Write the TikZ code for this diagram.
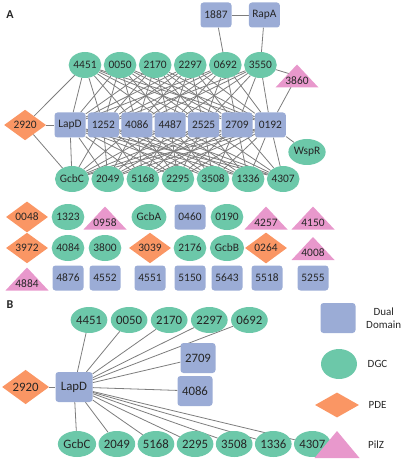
\documentclass[tikz,border=0pt]{standalone}
\usepackage{fontspec}
\setmainfont{Carlito}
\usetikzlibrary{shapes.geometric,positioning,backgrounds}
\definecolor{dualcol}{RGB}{155,172,214}
\definecolor{dgccol}{RGB}{108,200,169}
\definecolor{pdecol}{RGB}{250,150,100}
\definecolor{pilzcol}{RGB}{232,152,204}
\definecolor{linkcol}{RGB}{125,125,125}

\begin{document}
\begin{tikzpicture}[x=1pt,y=-1pt,
    every node/.style={font=\fontsize{11.4}{13}\selectfont,text=black!85},
    dual/.style={rectangle,rounded corners=3pt,minimum width=31pt,minimum height=25pt,inner sep=1pt,fill=dualcol},
    dgc/.style={ellipse,minimum width=31pt,minimum height=26pt,inner sep=0pt,fill=dgccol},
    pde/.style={diamond,minimum width=42pt,minimum height=29pt,inner sep=0pt,fill=pdecol},
    pilz/.style={rectangle,minimum width=43pt,minimum height=23pt,inner sep=0pt,text height=16.5pt,text depth=0pt,
        path picture={\fill[pilzcol] (path picture bounding box.south west) -- (path picture bounding box.south east) -- (path picture bounding box.north) -- cycle;}},
    key/.style={font=\fontsize{11}{13}\selectfont,align=center},
    tag/.style={font=\fontsize{12}{14}\selectfont\bfseries},
    link/.style={draw=linkcol,line width=0.8pt}
]
\useasboundingbox (0,0) rectangle (400,462);

% Panel A
\node[tag] (laba) at (10,15) {A};

% DGC row above
\node[dgc] (dgc4451) at (85,65) {4451};
\node[dgc,right=2pt of dgc4451] (dgc0050) {0050};
\node[dgc,right=2pt of dgc0050] (dgc2170) {2170};
\node[dgc,right=2pt of dgc2170] (dgc2297) {2297};
\node[dgc,right=2pt of dgc2297] (dgc0692) {0692};
\node[dgc,right=2pt of dgc0692] (dgc3550) {3550};

% Partners on top
\node[dual] (dd1887) at (216,15) {1887};
\node[dual,right=17pt of dd1887] (rapa) {RapA};
\node[pilz] (pilz3860) at (297,76) {3860};

% Dual domain row
\node[dual] (lapd) at (70,125) {LapD};
\node[dual,right=2pt of lapd] (dd1252) {1252};
\node[dual,right=2pt of dd1252] (dd4086) {4086};
\node[dual,right=2pt of dd4086] (dd4487) {4487};
\node[dual,right=2pt of dd4487] (dd2525) {2525};
\node[dual,right=2pt of dd2525] (dd2709) {2709};
\node[dual,right=2pt of dd2709] (dd0192) {0192};
\node[pde,left=8pt of lapd] (pde2920) {2920};
\node[dgc] (wspr) at (307,152) {WspR};

% DGC row below
\node[dgc] (gcbc) at (72,179) {GcbC};
\node[dgc,right=2pt of gcbc] (dgc2049) {2049};
\node[dgc,right=2pt of dgc2049] (dgc5168) {5168};
\node[dgc,right=2pt of dgc5168] (dgc2295) {2295};
\node[dgc,right=2pt of dgc2295] (dgc3508) {3508};
\node[dgc,right=2pt of dgc3508] (dgc1336) {1336};
\node[dgc,right=2pt of dgc1336] (dgc4307) {4307};

% Unlinked proteins
\node[pde] (pde0048) at (27,217) {0048};
\node[dgc] (dgc1323) at (68,217) {1323};
\node[pilz] (pilz0958) at (105,218) {0958};
\node[dgc] (gcba) at (149,217) {GcbA};
\node[dual] (dd0460) at (190,217) {0460};
\node[dgc] (dgc0190) at (227,217) {0190};
\node[pilz] (pilz4257) at (266,218) {4257};
\node[pilz] (pilz4150) at (313,218) {4150};

\node[pde] (pde3972) at (27,248) {3972};
\node[dgc] (dgc4084) at (68,248) {4084};
\node[dgc] (dgc3800) at (105,248) {3800};
\node[pde] (pde3039) at (150,248) {3039};
\node[dgc] (dgc2176) at (190,248) {2176};
\node[dgc] (gcbb) at (227,248) {GcbB};
\node[pde] (pde0264) at (266,248) {0264};
\node[pilz] (pilz4008) at (313,248.5) {4008};

\node[pilz] (pilz4884) at (27,279) {4884};
\node[dual] (dd4876) at (68,278) {4876};
\node[dual] (dd4552) at (105,278) {4552};
\node[dual] (dd4551) at (150,278) {4551};
\node[dual] (dd5150) at (190,278) {5150};
\node[dual] (dd5643) at (227,278) {5643};
\node[dual] (dd5518) at (267,278) {5518};
\node[dual] (dd5255) at (313,278) {5255};

% Panel B
\begin{scope}[every node/.append style={font=\fontsize{12.8}{15}\selectfont},
    dgc/.append style={minimum width=35pt,minimum height=26pt},
    dual/.append style={minimum width=35pt,minimum height=30pt}]
\node[tag] (labb) at (10,305) {B};

\node[dgc] (dgc4451b) at (89,320) {4451};
\node[dgc,right=3pt of dgc4451b] (dgc0050b) {0050};
\node[dgc,right=3pt of dgc0050b] (dgc2170b) {2170};
\node[dgc,right=3pt of dgc2170b] (dgc2297b) {2297};
\node[dgc,right=3pt of dgc2297b] (dgc0692b) {0692};

\node[dual,minimum width=37pt] (lapdb) at (74,387) {LapD};
\node[pde,minimum width=47pt,minimum height=32pt,left=6pt of lapdb] (pde2920b) {2920};
\node[dual] (dd2709b) at (198,358) {2709};
\node[dual] (dd4086b) at (195,391) {4086};

\node[dgc] (gcbcb) at (77,444) {GcbC};
\node[dgc,right=2pt of gcbcb] (dgc2049b) {2049};
\node[dgc,right=2pt of dgc2049b] (dgc5168b) {5168};
\node[dgc,right=2pt of dgc5168b] (dgc2295b) {2295};
\node[dgc,right=2pt of dgc2295b] (dgc3508b) {3508};
\node[dgc,right=2pt of dgc3508b] (dgc1336b) {1336};
\node[dgc,right=2pt of dgc1336b] (dgc4307b) {4307};

% Legend
\node[dual] (keydual) at (338,318) {};
\node[key,right=7pt of keydual] (keydualtxt) {Dual\\Domain};
\node[dgc,minimum width=36pt,minimum height=30pt] (keydgc) at (339,364) {};
\node[key,right=7pt of keydgc] (keydgctxt) {DGC};
\node[pde,minimum width=44pt,minimum height=25pt] (keypde) at (337,405) {};
\node[key,right=6pt of keypde] (keypdetxt) {PDE};
\node[pilz,minimum width=45pt,minimum height=27pt] (keypilz) at (337,444.5) {};
\node[key,right=5pt of keypilz] (keypilztxt) {PilZ};
\end{scope}

% Connections
\begin{scope}[on background layer]
\draw[link] (dgc4451) edge (pde2920) edge (lapd) edge (dd1252) edge (dd4086) edge (dd4487) edge (dd2525) edge (dd2709) edge (dd0192);
\draw[link] (dgc0050) edge (lapd) edge (dd1252) edge (dd4086) edge (dd4487) edge (dd2525) edge (dd2709) edge (dd0192);
\draw[link] (dgc2170) edge (lapd) edge (dd1252) edge (dd4086) edge (dd4487) edge (dd2525) edge (dd2709) edge (dd0192);
\draw[link] (dgc2297) edge (lapd) edge (dd1252) edge (dd4086) edge (dd4487) edge (dd2525) edge (dd2709) edge (dd0192);
\draw[link] (dgc0692) edge (dd1887) edge (lapd) edge (dd1252) edge (dd4086) edge (dd4487) edge (dd2525) edge (dd2709) edge (dd0192);
\draw[link] (dgc3550) edge (rapa) edge (pilz3860.center) edge (dd1252) edge (dd4086) edge (dd4487) edge (dd2525) edge (dd2709) edge (dd0192);
\draw[link] (dd1887) -- (rapa);
\draw[link] (pilz3860.center) -- (dd0192);
\draw[link] (dd0192) -- (wspr);
\draw[link] (pde2920) edge (lapd) edge (gcbc);
\draw[link] (gcbc) edge (lapd) edge (dd1252) edge (dd4086) edge (dd4487) edge (dd2525) edge (dd2709) edge (dd0192);
\draw[link] (dgc2049) edge (lapd) edge (dd1252) edge (dd4086) edge (dd4487) edge (dd2525) edge (dd2709) edge (dd0192);
\draw[link] (dgc5168) edge (lapd) edge (dd1252) edge (dd4086) edge (dd4487) edge (dd2525) edge (dd2709) edge (dd0192);
\draw[link] (dgc2295) edge (lapd) edge (dd1252) edge (dd4086) edge (dd4487) edge (dd2525) edge (dd2709) edge (dd0192);
\draw[link] (dgc3508) edge (lapd) edge (dd1252) edge (dd4086) edge (dd4487) edge (dd2525) edge (dd2709) edge (dd0192);
\draw[link] (dgc1336) edge (lapd) edge (dd1252) edge (dd4086) edge (dd4487) edge (dd2525) edge (dd2709) edge (dd0192);
\draw[link] (dgc4307) edge (lapd) edge (dd1252) edge (dd4086) edge (dd4487) edge (dd2525) edge (dd2709) edge (dd0192);

\draw[link] (lapdb) edge (pde2920b) edge (dgc4451b) edge (dgc0050b) edge (dgc2170b) edge (dgc2297b) edge (dgc0692b) edge (dd2709b) edge (dd4086b);
\draw[link] (lapdb) edge (gcbcb) edge (dgc2049b) edge (dgc5168b) edge (dgc2295b) edge (dgc3508b) edge (dgc1336b) edge (dgc4307b);
\end{scope}

\end{tikzpicture}
\end{document}
